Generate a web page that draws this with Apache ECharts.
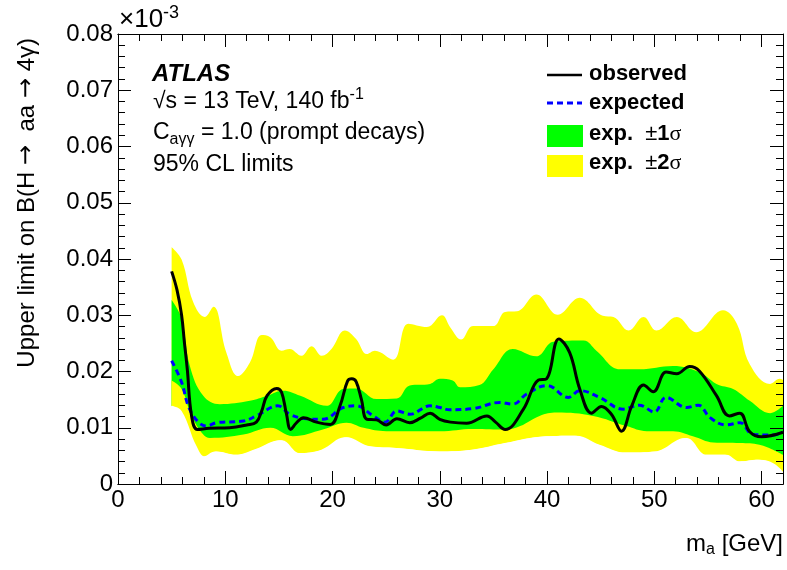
<!DOCTYPE html>
<html>
<head>
<meta charset="utf-8">
<script src="https://cdn.jsdelivr.net/npm/echarts@6/dist/echarts.min.js"></script>
<style>
  html, body { margin: 0; padding: 0; background: #fff; }
  #chart { width: 787px; height: 570px; }
</style>
</head>
<body>
<div id="chart"></div>
<script>
// observed limit [m_a, B]
var observed = [
  [5.0, 0.0378], [5.5, 0.0345], [5.93, 0.030], [6.2, 0.025], [6.46, 0.0204], [6.86, 0.0121],
  [7.4, 0.0097], [8.5, 0.0099], [10.4, 0.0100], [12.0, 0.0105], [12.9, 0.0110], [13.4, 0.0130],
  [13.9, 0.0157], [14.8, 0.0170], [15.25, 0.0163], [15.7, 0.0125], [16.1, 0.0097], [16.6, 0.0108],
  [17.3, 0.0118], [18.5, 0.0110], [19.8, 0.0106], [20.7, 0.0139], [21.4, 0.0183], [21.8, 0.0187],
  [22.2, 0.0182], [22.7, 0.0150], [23.2, 0.0115], [24.1, 0.0114], [25.0, 0.0105], [26.0, 0.0116],
  [27.2, 0.0109], [28.2, 0.0117], [29.1, 0.0126], [30.0, 0.0115], [31.0, 0.0110], [32.5, 0.0108],
  [34.4, 0.0121], [35.2, 0.0110], [36.1, 0.0097], [37.8, 0.0133], [39.2, 0.0185], [39.95, 0.0187],
  [41.1, 0.0258], [42.1, 0.0234], [43.05, 0.0169], [44.15, 0.0126], [45.08, 0.0138], [46.0, 0.0124],
  [46.94, 0.0094], [47.9, 0.0139], [49.0, 0.0176], [49.9, 0.0164], [51.1, 0.0199], [52.1, 0.0196],
  [53.3, 0.0209], [54.2, 0.0201], [55.8, 0.0157], [57.0, 0.0121], [57.97, 0.0126], [58.9, 0.0093],
  [60.0, 0.0084], [62.0, 0.0092]
];

// expected limit
var expected = [
  [5.0, 0.0219], [5.93, 0.0181], [6.55, 0.0139], [7.4, 0.0112], [8.27, 0.0103], [9.2, 0.0109],
  [11.7, 0.0112], [12.9, 0.0121], [14.9, 0.0139], [16.0, 0.0124], [17.6, 0.0116], [19.1, 0.0115],
  [21.0, 0.0136], [22.2, 0.0139], [23.8, 0.0121], [24.9, 0.0110], [26.0, 0.0130], [27.2, 0.0124],
  [29.1, 0.0139], [30.0, 0.0136], [30.9, 0.0132], [33.1, 0.0134], [35.6, 0.0145], [36.8, 0.0142],
  [38.1, 0.0160], [40.0, 0.0175], [42.0, 0.0154], [43.05, 0.0166], [44.9, 0.0154], [47.1, 0.0133],
  [48.6, 0.0140], [50.0, 0.0128], [51.1, 0.0154], [53.0, 0.0136], [54.1, 0.0140], [55.2, 0.0118],
  [56.7, 0.0105], [58.0, 0.0109], [59.2, 0.0088], [61.1, 0.0087], [62.0, 0.0092]
];

// +-1 sigma band edges
var sigma1Up = [
  [5.0, 0.0327], [5.93, 0.0294], [6.7, 0.0210], [7.95, 0.0157], [9.5, 0.0142], [12.3, 0.0148],
  [13.9, 0.0157], [15.4, 0.0166], [17.0, 0.0157], [19.45, 0.0139], [21.0, 0.0169], [22.2, 0.0170],
  [24.1, 0.0151], [26.0, 0.0152], [27.2, 0.0175], [29.1, 0.0178], [30.0, 0.0187], [31.2, 0.0184],
  [31.9, 0.0172], [33.7, 0.0176], [35.0, 0.0204], [36.8, 0.0240], [39.0, 0.0227], [40.6, 0.0253],
  [43.4, 0.0255], [44.6, 0.0237], [46.8, 0.0204], [48.6, 0.0204], [51.75, 0.0210], [54.2, 0.0199],
  [55.8, 0.0178], [57.35, 0.0169], [58.9, 0.0148], [60.8, 0.0126], [62.0, 0.0139]
];
var sigma1Down = [
  [5.0, 0.0184], [5.93, 0.0169], [6.86, 0.0121], [7.95, 0.0088], [8.57, 0.0082], [11.7, 0.0088],
  [14.2, 0.0100], [16.3, 0.0085], [19.1, 0.0097], [21.3, 0.0109], [22.9, 0.0100], [25.0, 0.0094],
  [27.2, 0.0094], [30.0, 0.0094], [33.1, 0.0098], [36.2, 0.0097], [37.5, 0.0103], [39.3, 0.0121],
  [40.9, 0.0127], [44.3, 0.0121], [47.4, 0.0103], [49.3, 0.0094], [51.75, 0.0094], [53.6, 0.0085],
  [55.5, 0.0074], [58.0, 0.0073], [59.8, 0.0070], [62.0, 0.0052]
];

// +-2 sigma band edges
var sigma2Up = [
  [5.0, 0.0421], [5.93, 0.0399], [7.0, 0.0324], [8.1, 0.0297], [8.9, 0.0315], [10.1, 0.0234],
  [11.2, 0.0192], [12.3, 0.0216], [13.4, 0.0265], [14.2, 0.0261], [15.25, 0.0237], [16.0, 0.0240],
  [17.1, 0.0228], [18.05, 0.0245], [19.0, 0.0228], [19.9, 0.0240], [21.15, 0.0273], [22.2, 0.0258],
  [23.2, 0.0231], [23.95, 0.0237], [25.65, 0.0221], [27.06, 0.0285], [28.8, 0.0279], [30.2, 0.0300],
  [31.0, 0.0278], [32.0, 0.0257], [33.1, 0.0281], [35.0, 0.0281], [36.1, 0.0306], [37.2, 0.0307],
  [39.0, 0.0337], [41.0, 0.0301], [43.05, 0.0331], [45.2, 0.0299], [46.2, 0.0297], [47.6, 0.0273],
  [49.0, 0.0297], [50.2, 0.0273], [52.1, 0.0297], [53.9, 0.0270], [56.4, 0.0309], [57.7, 0.0285],
  [58.9, 0.0213], [60.8, 0.0178], [61.7, 0.0187], [62.0, 0.0185]
];
var sigma2Down = [
  [5.0, 0.0139], [5.93, 0.0130], [7.33, 0.0067], [8.1, 0.0049], [9.2, 0.0058], [11.06, 0.0052],
  [12.9, 0.0062], [15.25, 0.0078], [17.0, 0.0055], [19.1, 0.0061], [21.3, 0.0083], [23.5, 0.0067],
  [26.0, 0.0064], [30.0, 0.0058], [33.1, 0.0061], [36.2, 0.0073], [40.0, 0.0085], [42.7, 0.0086],
  [44.9, 0.0070], [47.4, 0.0056], [50.2, 0.0058], [53.0, 0.0082], [54.9, 0.0052], [56.7, 0.0052],
  [58.0, 0.0040], [59.8, 0.0043], [61.1, 0.0037], [62.0, 0.0022]
];

var FONT = '"Liberation Sans", Arial, sans-serif';

(function() {
  var myChart = echarts.init(document.getElementById("chart"));

  // band = area filled down to 0, painted from top edge to bottom edge
  function band(data, fill) {
    var s = {
      type: "line",
      data: data,
      smooth: 0.4,
      symbol: "none",
      silent: true,
      lineStyle: { width: 0 },
      areaStyle: { color: fill, opacity: 1 },
      z: 2
    };
    if (fill === "#ffffff") {
      // white shadow hides the anti-aliased seam at the left edge
      s.areaStyle.shadowColor = "#ffffff";
      s.areaStyle.shadowBlur = 0;
      s.areaStyle.shadowOffsetX = -1.5;
    }
    return s;
  }

  function xAx(pos, interval, len, labels) {
    return {
      type: "value",
      position: pos,
      min: 0,
      max: 62,
      interval: interval,
      z: 10,
      axisLine: { show: true, onZero: false, lineStyle: { color: "#000", width: 1 } },
      axisTick: { show: true, inside: true, length: len, lineStyle: { color: "#000" } },
      axisLabel: {
        show: labels,
        showMaxLabel: false,
        color: "#000",
        fontSize: 24,
        fontFamily: FONT,
        margin: 4
      },
      splitLine: { show: false }
    };
  }

  function yAx(pos, labels) {
    return {
      type: "value",
      position: pos,
      min: 0,
      max: 0.08,
      interval: 0.01,
      z: 10,
      axisLine: { show: true, onZero: false, lineStyle: { color: "#000", width: 1 } },
      axisTick: { show: true, inside: true, length: 13, lineStyle: { color: "#000" } },
      minorTick: { show: true, splitNumber: 5, length: 7, lineStyle: { color: "#000" } },
      axisLabel: {
        show: labels,
        color: "#000",
        fontSize: 24,
        fontFamily: FONT,
        margin: 5,
        formatter: function(v) {
          return v === 0 ? "0" : v.toFixed(2);
        }
      },
      splitLine: { show: false },
      minorSplitLine: { show: false }
    };
  }

  var richSans = { fontSize: 24, fontFamily: FONT, fill: "#000" };
  var richArrow = { fontSize: 24, fontFamily: '"DejaVu Sans", sans-serif', fill: "#000" };

  var option = {
    backgroundColor: "#fff",
    animation: false,
    grid: { left: 118, right: 4, top: 34, bottom: 86 },
    xAxis: [
      xAx("bottom", 10, 13, true),
      xAx("bottom", 2, 7, false),
      xAx("top", 10, 13, false),
      xAx("top", 2, 7, false)
    ],
    yAxis: [yAx("left", true), yAx("right", false)],
    series: [
      band(sigma2Up, "#ffff00"),
      band(sigma1Up, "#00ff00"),
      band(sigma1Down, "#ffff00"),
      band(sigma2Down, "#ffffff"),
      {
        name: "expected",
        type: "line",
        data: expected,
        smooth: 0.4,
        symbol: "none",
        lineStyle: { color: "#0000ff", width: 3, type: [6, 4] },
        z: 3
      },
      {
        name: "observed",
        type: "line",
        data: observed,
        smooth: 0.4,
        symbol: "none",
        lineStyle: { color: "#000", width: 3 },
        z: 4
      }
    ],
    graphic: [
      // exponent of the y axis
      {
        type: "text", x: 119, y: 20, z: 20,
        style: {
          text: "{n|×10}{s|-3}",
          verticalAlign: "middle",
          rich: {
            n: { fontSize: 26, fontFamily: FONT, fill: "#000" },
            s: { fontSize: 18, fontFamily: FONT, fill: "#000", padding: [0, 0, 14, 0] }
          }
        }
      },
      // y axis title
      {
        type: "text", x: 27, y: 38, rotation: Math.PI / 2, z: 20,
        style: {
          text: "{n|Upper limit on B(H }{a|→}{n|  aa }{a|→}{n| 4γ)}",
          align: "right",
          verticalAlign: "middle",
          rich: { n: richSans, a: richArrow }
        }
      },
      // x axis title
      {
        type: "text", x: 783, y: 544, z: 20,
        style: {
          text: "{n|m}{s|a}{n| [GeV]}",
          align: "right",
          verticalAlign: "middle",
          rich: {
            n: { fontSize: 24, fontFamily: FONT, fill: "#000" },
            s: { fontSize: 16, fontFamily: FONT, fill: "#000", padding: [12, 0, 0, 0] }
          }
        }
      },
      // ATLAS label block
      {
        type: "text", x: 152, y: 74, z: 20,
        style: { text: "ATLAS", font: "italic bold 24px " + FONT, fill: "#000", verticalAlign: "middle" }
      },
      {
        type: "text", x: 153, y: 102, z: 20,
        style: {
          text: "{n|√s = 13 TeV, 140 fb}{s|-1}",
          verticalAlign: "middle",
          rich: {
            n: { fontSize: 23, fontFamily: FONT, fill: "#000" },
            s: { fontSize: 16, fontFamily: FONT, fill: "#000", padding: [0, 0, 14, 0] }
          }
        }
      },
      {
        type: "text", x: 153, y: 133, z: 20,
        style: {
          text: "{n|C}{s|aγγ}{n| = 1.0 (prompt decays)}",
          verticalAlign: "middle",
          rich: {
            n: { fontSize: 23, fontFamily: FONT, fill: "#000" },
            s: { fontSize: 16, fontFamily: FONT, fill: "#000", padding: [14, 0, 0, 0] }
          }
        }
      },
      {
        type: "text", x: 153, y: 165, z: 20,
        style: { text: "95% CL limits", font: "23px " + FONT, fill: "#000", verticalAlign: "middle" }
      },
      // legend
      {
        type: "line", z: 20,
        shape: { x1: 547, y1: 75, x2: 582, y2: 75 },
        style: { stroke: "#000", lineWidth: 2.5 }
      },
      {
        type: "line", z: 20,
        shape: { x1: 547, y1: 103, x2: 582, y2: 103 },
        style: { stroke: "#0000ff", lineWidth: 3, lineDash: [6, 4] }
      },
      {
        type: "rect", z: 20,
        shape: { x: 547, y: 125, width: 36, height: 22 },
        style: { fill: "#00ff00" }
      },
      {
        type: "rect", z: 20,
        shape: { x: 547, y: 155, width: 36, height: 22 },
        style: { fill: "#ffff00" }
      },
      {
        type: "text", x: 589, y: 74, z: 20,
        style: { text: "observed", font: "bold 22px " + FONT, fill: "#000", verticalAlign: "middle" }
      },
      {
        type: "text", x: 589, y: 103, z: 20,
        style: { text: "expected", font: "bold 22px " + FONT, fill: "#000", verticalAlign: "middle" }
      },
      {
        type: "text", x: 589, y: 134, z: 20,
        style: {
          text: "{b|exp.  }{p|±}{b|1}{g|σ}",
          verticalAlign: "middle",
          rich: {
            b: { fontSize: 22, fontWeight: "bold", fontFamily: FONT, fill: "#000" },
            p: { fontSize: 22, fontFamily: FONT, fill: "#000" },
            g: { fontSize: 22, fontFamily: '"Liberation Serif", serif', fill: "#000" }
          }
        }
      },
      {
        type: "text", x: 589, y: 163, z: 20,
        style: {
          text: "{b|exp.  }{p|±}{b|2}{g|σ}",
          verticalAlign: "middle",
          rich: {
            b: { fontSize: 22, fontWeight: "bold", fontFamily: FONT, fill: "#000" },
            p: { fontSize: 22, fontFamily: FONT, fill: "#000" },
            g: { fontSize: 22, fontFamily: '"Liberation Serif", serif', fill: "#000" }
          }
        }
      }
    ]
  };

  myChart.setOption(option);
  window.addEventListener("resize", function() {
    myChart.resize();
  });
})();
</script>
</body>
</html>
